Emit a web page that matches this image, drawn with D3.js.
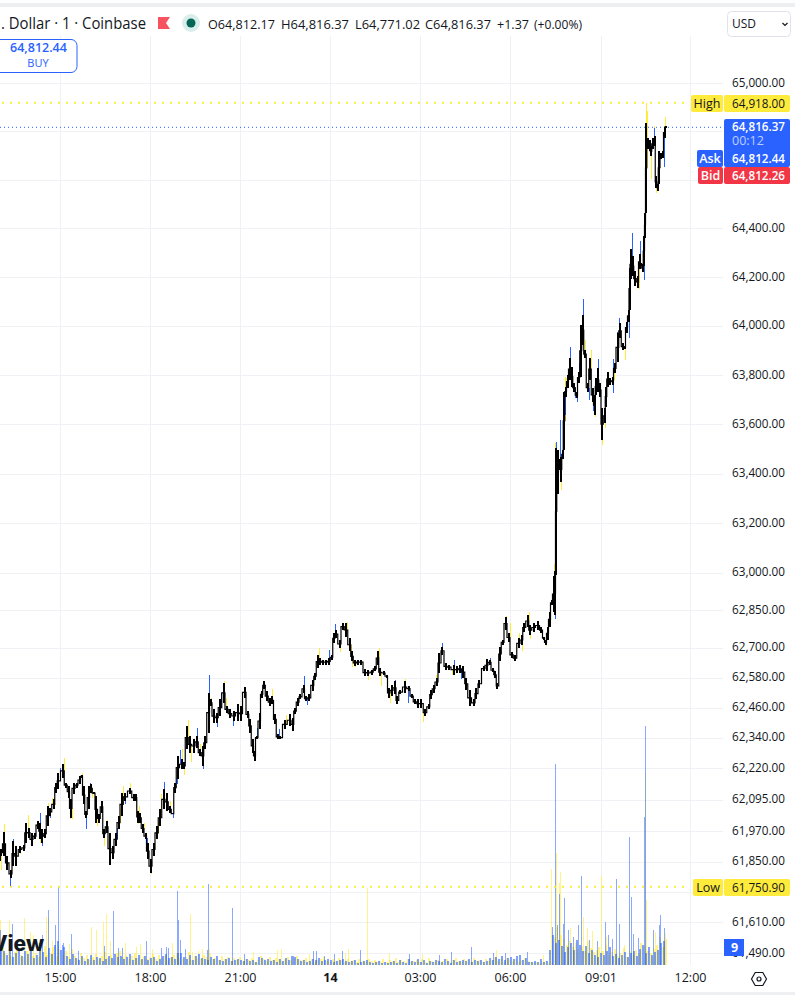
<!DOCTYPE html>
<html><head><meta charset="utf-8">
<script src="https://cdn.jsdelivr.net/npm/d3@7"></script>
<style>html,body{margin:0;padding:0;background:#fff;overflow:hidden}svg{display:block}text{font-family:"Open Sans",sans-serif}</style>
</head><body><svg id="c" width="795" height="995"></svg>
<script>
// Price axis
const priceTicks=[65000,64800,64600,64400,64200,64000,63800,63600,63400,63200,63000,62850,62700,62580,62460,62340,62220,62095,61970,61850,61730,61610,61490];
const hiddenPriceTicks=[64800,64600,61730];
// Time axis (minutes since 15:00)
const timeTicks=[0,180,360,540,720,900,1081,1260];
const timeLabels=["15:00","18:00","21:00","14","03:00","06:00","09:01","12:00"];
// Price marks
const highPrice=64918, lowPrice=61750.9, lastPrice=64816.37;
const legendText=". Dollar · 1 · Coinbase";
const ohlcTexts=["O64,812.17","H64,816.37","L64,771.02","C64,816.37","+1.37","(+0.00%)"];
// Candle body extents, minutes since 15:00
const barMinutes=[-120,-118,-112,-106,-98,-94,-87,-80,-73,-68,-63,-57,-51,-45,-40,-35,-30,-25,-20,-13,-8,-3,5,12,17,21,27,33,39,43,47,52,57,61,68,72,78,83,88,93,99,105,111,117,123,130,140,147,152,155,160,165,171,175,181,187,193,200,207,213,220,225,230,235,243,248,253,260,267,273,280,285,290,297,301,307,313,320,327,333,340,347,355,361,369,375,380,385,389,393,399,403,408,413,420,424,430,435,440,450,459,465,470,475,481,487,491,498,505,510,515,520,525,531,538,543,548,552,559,565,572,579,584,589,597,602,610,617,623,630,635,640,647,653,657,663,669,675,680,690,697,703,710,717,723,730,737,742,747,753,759,765,771,777,787,793,800,807,812,819,827,833,839,847,853,859,865,870,875,880,885,891,897,903,910,917,923,928,935,940,947,955,963,967,971,975,979,983,987,990,992,995,999,1002,1005,1008,1011,1015,1019,1023,1028,1033,1037,1042,1045,1050,1055,1060,1065,1069,1072,1075,1080,1084,1089,1092,1095,1100,1105,1109,1115,1120,1125,1129,1133,1137,1139,1141,1145,1150,1155,1159,1162,1165,1168,1170,1172,1175,1179,1182,1185,1189,1192,1195,1198,1202,1205,1209,1211];
const barHigh=[61891,61898,61968,61871,61818,61931,61911,61911,61917,62003,61984,61964,61964,62010,62003,61977,61977,62070,62063,62096,62162,62202,62235,62162,62149,62096,62162,62162,62189,62193,62149,62050,62149,62156,62125,62109,62037,62089,61977,62010,61964,61911,61964,62030,62122,62122,62142,62116,62116,62050,62043,61997,61964,61924,61858,61924,61990,62056,62136,62122,62070,62043,62162,62268,62255,62242,62387,62347,62334,62347,62294,62308,62347,62519,62493,62453,62440,62493,62559,62466,62453,62447,62473,62466,62543,62447,62414,62334,62288,62347,62440,62526,62566,62526,62499,62506,62433,62354,62347,62413,62433,62420,62460,62499,62513,62552,62506,62513,62572,62599,62671,62658,62652,62652,62658,62671,62757,62771,62731,62797,62797,62738,62685,62652,62652,62652,62615,62612,62612,62625,62685,62618,62605,62592,62539,62552,62566,62506,62532,62566,62546,62513,62493,62493,62493,62453,62473,62532,62552,62579,62678,62704,62638,62632,62632,62625,62632,62625,62579,62532,62493,62539,62572,62627,62654,62651,62618,62605,62559,62704,62731,62823,62757,62684,62671,62737,62750,62797,62830,62790,62797,62807,62783,62744,62731,62783,62843,62889,62986,63006,63502,63495,63461,63468,63495,63732,63753,63800,63868,63834,63766,63732,63814,64004,64045,63902,63766,63868,63746,63719,63787,63827,63766,63665,63665,63753,63814,63787,63793,63848,63970,64011,63929,63920,64017,64065,64239,64314,64286,64225,64204,64293,64259,64252,64369,64464,64834,64772,64766,64738,64772,64779,64615,64581,64718,64711,64718,64818,64823];
const barLow=[61851,61871,61871,61818,61785,61831,61831,61884,61891,61924,61944,61911,61937,61977,61937,61924,61944,61990,62030,62056,62122,62136,62182,62142,62103,62023,62116,62142,62156,62182,62076,62023,62056,62122,62116,62003,62003,62043,61944,61964,61838,61858,61911,61977,62030,62089,62116,62089,62089,62003,62003,61964,61937,61858,61805,61871,61937,61990,62056,62050,62043,62036,62122,62175,62215,62215,62294,62281,62281,62301,62268,62228,62294,62361,62466,62400,62400,62427,62480,62440,62420,62407,62407,62407,62500,62420,62361,62281,62248,62334,62374,62500,62533,62486,62466,62473,62394,62334,62334,62374,62387,62367,62433,62466,62493,62519,62486,62486,62526,62572,62618,62632,62632,62632,62632,62652,62718,62738,62698,62771,62744,62685,62645,62625,62632,62632,62585,62585,62592,62605,62632,62585,62592,62579,62499,62506,62513,62473,62513,62519,62526,62499,62473,62460,62460,62427,62453,62493,62519,62546,62599,62671,62612,62612,62592,62599,62599,62579,62532,62466,62466,62493,62539,62605,62605,62631,62601,62578,62535,62645,62711,62770,62724,62658,62645,62697,62711,62764,62783,62750,62764,62770,62757,62731,62711,62731,62783,62869,62843,62830,62993,63319,63414,63366,63461,63495,63712,63746,63780,63753,63732,63705,63766,63794,63922,63868,63732,63780,63692,63637,63719,63732,63712,63536,63604,63671,63753,63760,63760,63807,63855,63950,63902,63905,63970,64017,64067,64191,64204,64163,64156,64232,64245,64221,64245,64362,64464,64725,64718,64697,64725,64738,64567,64553,64581,64684,64690,64772,64814];
// Wick tips, minutes since 15:00
const blueWickMinutes=[-99,-95,-41,0,-35,52,208,225,241,273,285,297,313,321,345,403,437,487,549,695,763,803,847,992,999,1010,1020,1035,1037,1065,1075,1105,1105,1119,1137,1045,990,1143,1160,1167,1169,1207,1188,-19,37,60,113,130,173,233,393,410,493,515,538,670,787,860,863,1030,1057,1092,1113];
const blueWickPrices=[61755,61937,62040,62222,61911,61980,62166,62023,62292,62380,62218,62592,62384,62519,62387,62533,62374,62585,62794,62480,62718,62575,62605,63526,63617,63637,63916,63692,63848,63655,63864,63864,63725,64031,63950,64110,62816,64382,64348,64188,64544,64653,64815,62023,62189,62160,61984,62076,61944,62156,62380,62539,62469,62632,62691,62572,62651,62658,62612,63705,63698,63753,63977];
const yellowWickMinutes=[-113,-65,7,87,125,140,195,181,248,255,261,327,390,20,-118,423,452,518,560,573,615,637,641,659,689,725,891,939,1171,1173,1139,1157,1181,1188,1193,1209,987,990,993,1001,1009,1049,1061,1069,1083,1089,1129,937,899,923,917,971,-105,-80,-48,-39,-23,-15,8,23,43,63,73,93,119,157,155,167,188,201,220,243,280,301,332,381,581,583,590,655,752,783,813,1011,1107];
const yellowWickPrices=[62000,62032,62261,61911,62149,62162,62006,61802,62194,62413,62244,62566,62248,62017,61818,62535,62429,62700,62681,62804,62570,62698,62548,62477,62575,62403,62827,62733,64919,64882,64300,64150,64601,64820,64544,64859,63034,63522,63264,63332,63793,63943,63902,63628,63515,63583,63861,62843,62797,62688,62757,62708,61831,61878,61997,61924,62080,62103,62195,62017,62199,62103,61990,62014,62056,62070,62000,62003,61878,62116,62089,62294,62314,62500,62500,62387,62678,62622,62622,62506,62592,62592,62543,63787,63780];
// Volume: every 6 minutes
const volumeBlue=[20,14,10,18,8,12,16,9,14,11,18,7,10,22,13,8,17,11,20,24, 15,18,9,6,11,7,5,9,4,6,10,5,8,7,4,6,9,7,11,8, 9,6,8,11,5,7,10,6,9,5,7,8,4,6,9,11,7,8,6,12, 12,8,6,10,5,9,11,7,6,5,8,6,9,5,4,6,7,4,5,6, 5,4,6,4,5,3,8,7,5,6,4,5,3,6,4,7,5,9,8,6, 4,5,3,4,6,5,7,4,5,6,5,3,4,5,6,4,3,4,5,2, 3,4,5,3,2,3,4,2,3,2,3,4,2,5,3,2,6,4,3,6, 3,5,2,4,3,5,4,3,6,4,2,5,3,4,5,4,6,3,5,4, 5,3,4,7,5,8,6,9,5,7,8,6,9,10,5,7,3,3,4,3, 6,3,4,15,30,22,25,19,13,18,22,15,25,20,14,19,12,15,10,8, 12,10,14,18,9,11,7,10,13,8,12,14,9,16,20,12,18,10,13,15,22,24];
const volumeYellow=[18,12,15,9,13,20,10,8,14,16,9,12,8,15,19,10,12,18,9,16, 10,14,8,16,9,6,12,7,10,5,8,11,6,9,13,7,10,6,12,14, 8,10,6,9,12,7,5,9,6,8,11,6,10,7,9,5,8,10,12,7, 6,8,13,5,9,7,6,10,8,11,6,7,5,9,6,8,4,7,5,8, 4,6,5,7,3,5,9,6,4,8,5,7,6,4,6,8,5,7,9,5, 5,7,4,6,3,5,6,8,4,3,6,4,7,5,3,6,4,5,3,6, 4,3,6,4,5,3,4,6,3,5,4,7,3,5,4,6,3,4,5,3, 6,3,7,4,3,5,3,4,6,3,5,7,4,3,6,5,3,7,4,5, 3,6,4,5,8,4,6,3,7,5,4,6,3,5,7,4,3,2,3,2, 3,4,2,3,28,38,30,26,20,24,18,22,16,19,14,24,17,13,15,18, 14,20,10,13,16,9,12,17,8,14,10,15,11,22,19,14,12,16,20,28,18,26];
const blueSpikeMinutes=[-120,-96,-24,-4,-10,22,-36,106,124,88,116,172,234,236,36,4,6,212,202,216,240,250,296,294,344,368,466,506,512,528,548,564,600,698,758,782,822,866,890,934,984,990,994,998,1006,1008,1016,1026,1036,1042,1058,1074,1090,1096,1104,1112,1118,1138,1142,1146,1156,1168,1170,1186,1198,1200,1208];
const blueSpikeVolumes=[35,41,55,78,40,31,30,54,17,19,17,24,74,45,14,20,22,18,17,17,25,16,81,15,57,11,9,14,14,9,11,14,15,11,10,13,18,12,12,13,38,201,40,71,41,67,35,28,40,89,25,24,43,30,26,86,41,128,68,31,27,148,239,35,40,50,37];
const yellowSpikeMinutes=[-120,-102,-72,-60,-54,-28,-24,-16,18,62,72,86,92,100,130,160,152,184,224,260,264,284,276,298,386,434,442,498,576,570,614,658,724,872,966,982,992,1000,998,1020,1046,1054,1064,1082,1092,1128,1138,1170,1172,1190,1210];
const yellowSpikeVolumes=[45,45,47,33,30,48,47,24,21,38,35,43,51,24,22,21,18,16,22,51,13,16,14,16,13,15,16,11,16,12,77,12,11,15,10,96,112,93,82,37,48,37,34,89,28,20,56,192,65,33,32];

const W=795,H=995,BLUE="#2962ff",YEL="#ffeb3b",RED="#f23645",INK="#131722",GRID="#f0f1f4",SOFT=12.5;
const svg=d3.select("#c");
const x=d3.scaleLinear().domain([0,1260]).range([60,690]);
const y=d3.scaleLog().domain([65000,61490]).range([83,953]);
const v=d3.scaleLinear().domain([0,239]).range([965,726]);
const fmt=d3.format(",.2f");

svg.append("rect").attr("width",W).attr("height",H).attr("fill","#fff");
svg.append("rect").attr("y",3).attr("width",W).attr("height",4).attr("fill","#eeeff1");
svg.append("rect").attr("y",992).attr("width",W).attr("height",3).attr("fill","#eeeff1");

// grid
const gy=svg.append("g");
gy.selectAll("line").data(priceTicks).join("line").attr("x1",0).attr("x2",723).attr("y1",d=>Math.round(y(d))+.5).attr("y2",d=>Math.round(y(d))+.5).attr("stroke",GRID);
const gx=svg.append("g");
gx.selectAll("line").data(timeTicks).join("line").attr("y1",36).attr("y2",965).attr("x1",d=>Math.round(x(d))+.5).attr("x2",d=>Math.round(x(d))+.5).attr("stroke",GRID);

// volume
const vol=svg.append("g").attr("shape-rendering","crispEdges");
const volBar=(sel,xv,h,col,op,w)=>sel.append("g").selectAll("rect").data(d3.range(xv.length)).join("rect")
 .attr("x",i=>Math.round(x(xv[i]))).attr("width",w).attr("y",i=>v(h[i])).attr("height",i=>v(0)-v(h[i])).attr("fill",col).attr("opacity",op);
volBar(vol,yellowSpikeMinutes,yellowSpikeVolumes,YEL,.6,1);
volBar(vol,volumeYellow.map((_,i)=>6*i-117),volumeYellow,YEL,.6,2);
volBar(vol,blueSpikeMinutes,blueSpikeVolumes,BLUE,.55,1);
volBar(vol,volumeBlue.map((_,i)=>6*i-120),volumeBlue,BLUE,.6,2);

// watermark
svg.append("text").attr("x",44).attr("y",951).attr("text-anchor","end").attr("font-size",21).attr("font-weight",800).attr("fill","#131722").style("font-family","Inter").text("View");

// price marks lines
const dot=(p,col,w,dash,x2,off)=>svg.append("line").attr("x1",0).attr("x2",x2).attr("y1",y(p)).attr("y2",y(p)).attr("stroke",col).attr("stroke-width",w).attr("stroke-dasharray",dash).attr("stroke-dashoffset",off);
dot(highPrice,YEL,2,"2 6",690,-2);
dot(lowPrice,YEL,2,"2 6",690,-2);
dot(lastPrice,BLUE,1,"1 3",723,0);

// wicks
const mid=barMinutes.map((_,i)=>(barHigh[i]+barLow[i])/2);
const bis=d3.bisector(d=>d).center;
const wick=(ms,ps,col)=>svg.append("g").attr("shape-rendering","crispEdges").selectAll("line").data(ms.map((m,i)=>[m,ps[i]])).join("line")
 .attr("x1",d=>Math.round(x(d[0]))+.5).attr("x2",d=>Math.round(x(d[0]))+.5).attr("y1",d=>y(d[1])).attr("y2",d=>y(mid[bis(barMinutes,d[0])])).attr("stroke",col).attr("stroke-width",1);
wick(yellowWickMinutes,yellowWickPrices,YEL);
wick(blueWickMinutes,blueWickPrices,BLUE);

// black candles: connector then bodies
const conn=d3.line().x(d=>x(barMinutes[d])).y(d=>y(mid[d])).curve(d3.curveStep);
svg.append("path").attr("d",conn(d3.range(barMinutes.length))).attr("fill","none").attr("stroke","#000").attr("stroke-width",1.2);
svg.append("g").attr("shape-rendering","crispEdges").selectAll("line").data(barMinutes.map((_,i)=>i)).join("line")
 .attr("x1",i=>Math.round(x(barMinutes[i]))).attr("x2",i=>Math.round(x(barMinutes[i]))).attr("y1",i=>y(barHigh[i])).attr("y2",i=>y(barLow[i])).attr("stroke","#000").attr("stroke-width",2);

// price axis labels
const axisR=d3.axisRight(y).tickValues(priceTicks.filter(t=>!hiddenPriceTicks.includes(t))).tickSize(0).tickPadding(0).tickFormat(fmt);
const ga=svg.append("g").attr("transform","translate(732,-1)").call(axisR);
ga.select(".domain").remove();
ga.selectAll("text").attr("font-size",SOFT).attr("fill",INK).style("font-family",'"Open Sans"').attr("textLength",53).attr("lengthAdjust","spacingAndGlyphs");

// time axis labels
const axisB=d3.axisBottom(x).tickValues(timeTicks).tickSize(0).tickPadding(0).tickFormat((d,i)=>timeLabels[i]);
const gb=svg.append("g").attr("transform","translate(0,973.5)").call(axisB);
gb.select(".domain").remove();
gb.selectAll("text").attr("font-size",12.5).attr("fill",INK).style("font-family",'"Open Sans"').attr("font-weight",(d,i)=>timeLabels[i]==="14"?700:400);

// tags
const tag=(x0,x1,y0,y1,col,txt,tc,fw,cx,anchor,r)=>{
 svg.append("rect").attr("x",x0).attr("y",y0).attr("width",x1-x0).attr("height",y1-y0).attr("fill",col).attr("rx",r===undefined?2:r);
 if(txt)svg.append("text").attr("x",cx).attr("y",(y0+y1)/2+4.3).attr("text-anchor",anchor||"start").attr("font-size",SOFT).attr("font-weight",fw||400).attr("fill",tc).text(txt);
};
const valTag=(y0,y1,col,txt,tc,fw)=>{tag(724,790,y0,y1,col,null);
 svg.append("text").attr("x",732).attr("y",(y0+y1)/2+4.3).attr("font-size",SOFT).attr("font-weight",fw||400).attr("fill",tc).attr("textLength",53).attr("lengthAdjust","spacingAndGlyphs").text(txt);};
tag(691,723,95,112,YEL,"High",INK,400,707,"middle");
valTag(95,112,YEL,fmt(highPrice),INK);
tag(693,723,879,896,YEL,"Low",INK,400,708,"middle");
valTag(879,896,YEL,fmt(lowPrice),INK);
tag(724,790,119,167,BLUE,null);
svg.append("text").attr("x",732).attr("y",131).attr("font-size",SOFT).attr("font-weight",600).attr("fill","#fff").attr("textLength",53).attr("lengthAdjust","spacingAndGlyphs").text(fmt(lastPrice));
svg.append("text").attr("x",732).attr("y",145).attr("font-size",SOFT).attr("fill","rgba(255,255,255,.7)").text("00:12");
svg.append("text").attr("x",732).attr("y",163).attr("font-size",SOFT).attr("font-weight",600).attr("fill","#fff").attr("textLength",53).attr("lengthAdjust","spacingAndGlyphs").text("64,812.44");
tag(697,723,150,167,BLUE,"Ask","#fff",600,710,"middle");
tag(698,723,167,184,RED,"Bid","#fff",600,710.5,"middle");
valTag(167,184,RED,"64,812.26","#fff",600);
tag(724,744,939,956,BLUE,"9","#fff",700,734.5,"middle",0);

// legend
const ink=(xp,txt,len,fs,col)=>svg.append("text").attr("x",xp).attr("y",29).attr("font-size",fs||13).attr("fill",col||INK).attr("textLength",len).attr("lengthAdjust","spacingAndGlyphs").text(txt);
ink(1,legendText,145,15.5);
svg.append("path").attr("d","M158 17H170L166 23L170 29H158Z").attr("fill","#f7525f");
svg.append("circle").attr("cx",191).attr("cy",23).attr("r",9).attr("fill","#d9eeea");
svg.append("circle").attr("cx",191).attr("cy",23).attr("r",4.5).attr("fill","#056656");
const ohlcX=[208,281,355,425,497,534],ohlcW=[67,68,65,66,32,48];
ohlcTexts.forEach((t,i)=>ink(ohlcX[i],t,ohlcW[i],12.5));

// buy box
svg.append("rect").attr("x",-8).attr("y",39.5).attr("width",85).attr("height",33).attr("rx",6).attr("fill","#fff").attr("stroke",BLUE);
svg.append("text").attr("x",38.5).attr("y",52).attr("text-anchor","middle").attr("font-size",12.5).attr("font-weight",600).attr("fill",BLUE).text("64,812.44");
svg.append("text").attr("x",38).attr("y",67).attr("text-anchor","middle").attr("font-size",11).attr("fill",BLUE).text("BUY");

// currency button
svg.append("rect").attr("x",727.5).attr("y",11.5).attr("width",63).attr("height",25).attr("rx",4).attr("fill","#fff").attr("stroke","#e0e3eb");
svg.append("text").attr("x",732).attr("y",28).attr("font-size",12).attr("fill",INK).text("USD");
svg.append("path").attr("d","M782.5 23l2.5 2.5 2.5-2.5").attr("fill","none").attr("stroke",INK).attr("stroke-width",1.2);

// settings icon
svg.append("path").attr("d","M751.5 979l3.7-6.5h7.6l3.7 6.5-3.7 6.5h-7.6z").attr("fill","none").attr("stroke",INK).attr("stroke-width",1.2);
svg.append("circle").attr("cx",759).attr("cy",979).attr("r",2).attr("fill","none").attr("stroke",INK).attr("stroke-width",1.2);
</script></body></html>
